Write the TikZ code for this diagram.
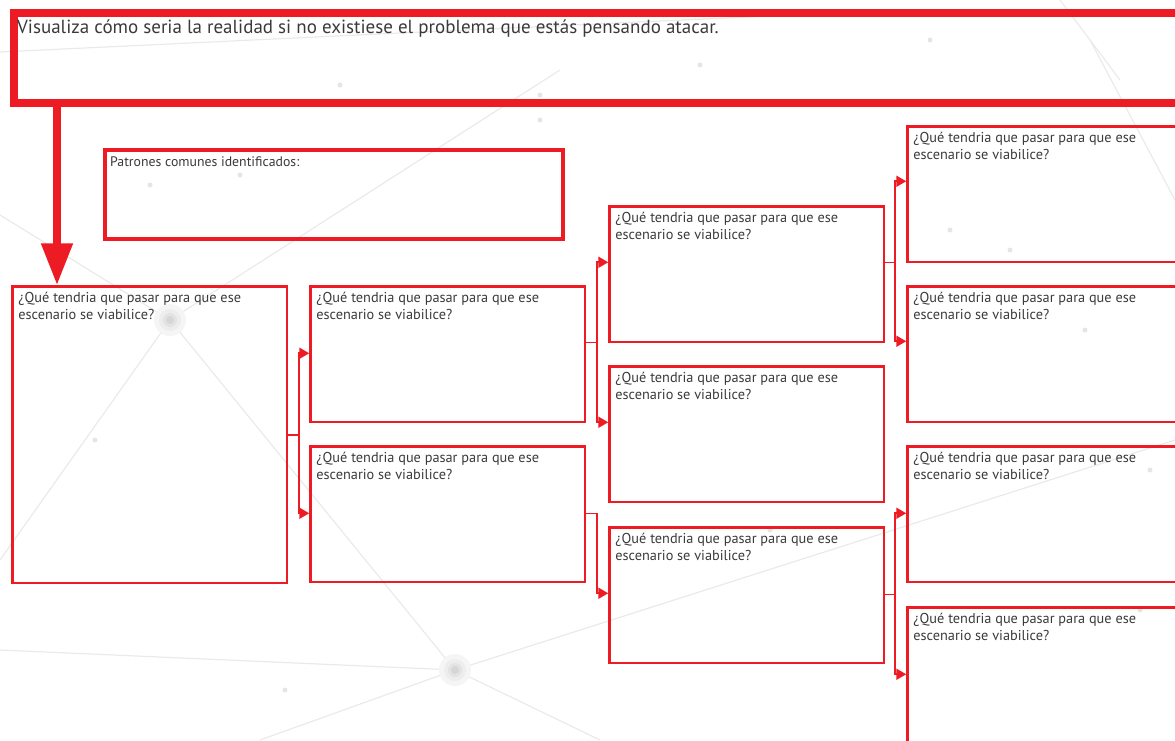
\documentclass[tikz,border=0pt]{standalone}
\usepackage{fontspec}
\setmainfont{PT Sans}
\usetikzlibrary{arrows.meta,calc}
\definecolor{rojo}{HTML}{ED1C24}
\definecolor{txt}{HTML}{3A3A3A}
\definecolor{bgline}{HTML}{EAEAEA}
\begin{document}
\begin{tikzpicture}[x=1pt,y=-1pt,
  caja/.style={draw=rojo,line width=2.5pt,anchor=north west,inner sep=0pt,
    minimum width=274.5pt,minimum height=135.5pt,
    label={[anchor=north west,inner sep=0pt,xshift=7pt,yshift=-7pt,text=txt,align=left,
      font=\fontsize{14.3}{17}\selectfont]north west:¿Qué tendria que pasar para que ese\\escenario se viabilice?}},
  conn/.style={draw=rojo,line width=1.5pt},
  flecha/.style={draw=rojo,line width=2pt,-{Triangle[length=10pt,width=11pt]}},
  bg/.style={draw=bgline,line width=1.2pt}]
\useasboundingbox (0,0) rectangle (1175,740);
\clip (0,0) rectangle (1175,740);
% faint background network
\draw[bg] (0,52) -- (400,33) -- (900,10);
\draw[bg] (0,215) -- (170,320) -- (455,670);
\draw[bg] (170,320) -- (560,70);
\draw[bg] (0,650) -- (455,670) -- (1175,440);
\draw[bg] (455,670) -- (600,740);
\draw[bg] (455,670) -- (260,740);
\draw[bg] (1090,40) -- (1175,200);
\draw[bg] (1060,0) -- (1120,80);
\draw[bg] (170,320) -- (0,560);
\foreach \r/\c in {16/8,11/14,7/22,4/32}{
  \fill[gray!\c] (170,320) circle (\r pt);
  \fill[gray!\c] (455,670) circle (\r pt);}
\foreach \p in {(150,185),(240,175),(340,85),(540,95),(700,65),(930,40),(1010,250),(950,230),(95,440),(1150,470),(1085,330),(1140,610),(285,690),(540,120),(770,530)}
  \fill[gray!20] \p circle (2.5pt);
% top box
\node[draw=rojo,line width=8pt,anchor=north west,inner sep=0pt,minimum width=1180pt,minimum height=90pt] (top) at (10,9) {};
\node[anchor=base west,inner sep=0pt,text=txt,font=\fontsize{19}{22}\selectfont] (toptxt) at (17,33) {Visualiza cómo seria la realidad si no existiese el problema que estás pensando atacar.};
% patrones box
\node[draw=rojo,line width=4pt,anchor=north west,inner sep=0pt,minimum width=458pt,minimum height=89pt] (pat) at (103,148) {};
\node[anchor=base west,inner sep=0pt,text=txt,font=\fontsize{13.8}{16}\selectfont] (pattxt) at (110,166) {Patrones comunes identificados:};
% boxes
\node[caja,minimum height=296.5pt] (a) at (11.25,285.25) {};
\node[caja] (b1) at (309.25,285.25) {};
\node[caja] (b2) at (309.25,445.25) {};
\node[caja] (c1) at (608.25,205.25) {};
\node[caja] (c2) at (608.25,365.25) {};
\node[caja] (c3) at (608.25,526.25) {};
\node[caja] (d1) at (906.25,125.25) {};
\node[caja] (d2) at (906.25,285.25) {};
\node[caja] (d3) at (906.25,445.25) {};
\node[caja,minimum height=160pt] (d4) at (906.25,606.25) {};
% big arrow
\coordinate (arrs) at (57,99);
\draw[rojo,line width=8pt,-{Triangle[length=42pt,width=30pt]}] (arrs) -- (arrs |- a.north);
% connectors
\coordinate (ja) at ($(a.east)+(11,0)$);
\draw[conn] (a.east) -- (ja);
\draw[flecha] (ja) |- ($(b1.north west)+(0,68)$);
\draw[flecha] (ja) |- ($(b2.north west)+(0,68)$);
\coordinate (jb1) at ($(b1.north east)+(11,57)$);
\draw[conn] ($(b1.north east)+(0,57)$) -- (jb1);
\draw[flecha] (jb1) |- ($(c1.north west)+(0,57)$);
\draw[flecha] (jb1) |- ($(c2.north west)+(0,57)$);
\coordinate (jb2) at ($(b2.north east)+(11,68)$);
\draw[conn] ($(b2.north east)+(0,68)$) -- (jb2);
\draw[flecha] (jb2) |- ($(c3.north west)+(0,67)$);
\coordinate (jc1) at ($(c1.north east)+(10,57)$);
\draw[conn] ($(c1.north east)+(0,57)$) -- (jc1);
\draw[flecha] (jc1) |- ($(d1.north west)+(0,56)$);
\draw[flecha] (jc1) |- ($(d2.north west)+(0,56)$);
\coordinate (jc3) at ($(c3.north east)+(10,68)$);
\draw[conn] ($(c3.north east)+(0,68)$) -- (jc3);
\draw[flecha] (jc3) |- ($(d3.north west)+(0,68)$);
\draw[flecha] (jc3) |- ($(d4.north west)+(0,68)$);
\end{tikzpicture}
\end{document}
